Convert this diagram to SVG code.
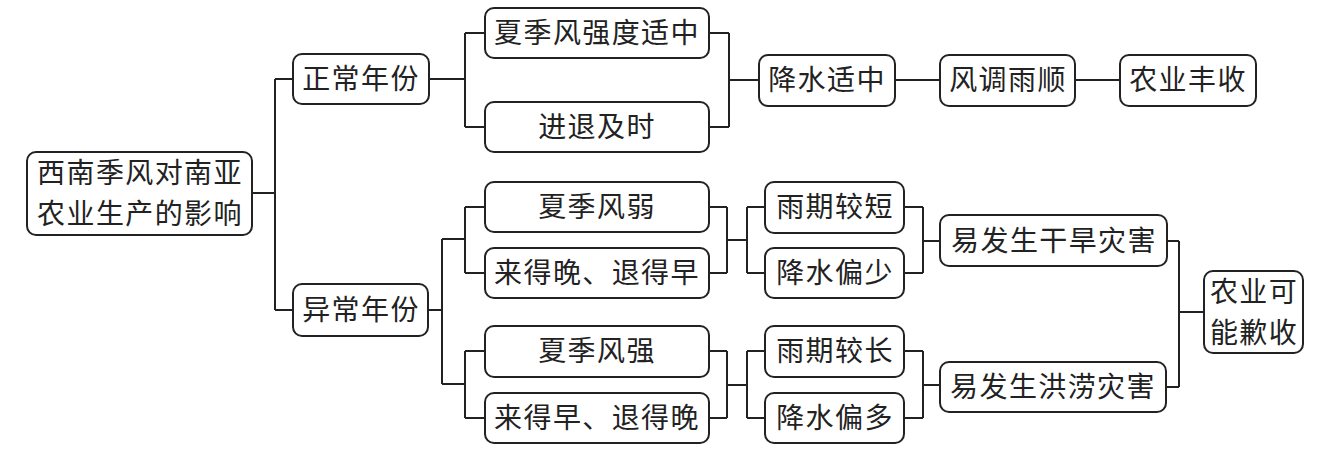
<svg xmlns="http://www.w3.org/2000/svg" width="1322" height="452" viewBox="0 0 1322 452">
<style>
.b{fill:#fff;stroke:#222;stroke-width:2}
.t{font-family:"Noto Sans CJK SC","Noto Sans",sans-serif;font-size:28px;fill:#222;text-anchor:middle;letter-spacing:1.4px}
.c{fill:none;stroke:#222;stroke-width:2}
</style>
<rect width="1322" height="452" fill="#fff"/>
<g id="connectors" class="c">
<path d="M252,193H275M275,79V310M275,79H293M275,310H293"/>
<path d="M429,79H465M465,33V127M465,33H485M465,127H485"/>
<path d="M709,33H729M709,127H729M729,33V127M729,80H759"/>
<path d="M895,80H940M1075,80H1120"/>
<path d="M428,310H442M442,239V384"/>
<path d="M442,239H465M465,207V273M465,207H485M465,273H485"/>
<path d="M442,384H465M465,351V418M465,351H485M465,418H485"/>
<path d="M709,207H727M709,273H727M727,207V273M727,240H747M747,207V273M747,207H765M747,273H765"/>
<path d="M709,351H727M709,418H727M727,351V418M727,385H747M747,351V418M747,351H765M747,418H765"/>
<path d="M904,207H923M904,273H923M923,207V273M923,241H940"/>
<path d="M904,351H923M904,418H923M923,351V418M923,385H940"/>
<path d="M1167,241H1179M1167,387H1179M1179,241V387M1179,312H1204"/>
</g>
<g id="root"><rect class="b" x="27" y="152" width="225" height="83" rx="9"/><text class="t" x="140" y="183">西南季风对南亚</text><text class="t" x="140" y="224">农业生产的影响</text></g>
<g id="normal"><rect class="b" x="293" y="54" width="136" height="50" rx="9"/><text class="t" x="361" y="89">正常年份</text></g>
<g id="abnormal"><rect class="b" x="293" y="284" width="135" height="52" rx="9"/><text class="t" x="361" y="320">异常年份</text></g>
<g id="n1"><rect class="b" x="485" y="8" width="224" height="50" rx="9"/><text class="t" x="597" y="43">夏季风强度适中</text></g>
<g id="n2"><rect class="b" x="485" y="102" width="224" height="50" rx="9"/><text class="t" x="597" y="137">进退及时</text></g>
<g id="n3"><rect class="b" x="759" y="55" width="136" height="51" rx="9"/><text class="t" x="827" y="90">降水适中</text></g>
<g id="n4"><rect class="b" x="940" y="55" width="135" height="51" rx="9"/><text class="t" x="1008" y="90">风调雨顺</text></g>
<g id="n5"><rect class="b" x="1120" y="55" width="136" height="51" rx="9"/><text class="t" x="1188" y="90">农业丰收</text></g>
<g id="a1"><rect class="b" x="485" y="182" width="224" height="50" rx="9"/><text class="t" x="597" y="217">夏季风弱</text></g>
<g id="a2"><rect class="b" x="485" y="248" width="224" height="50" rx="9"/><text class="t" x="597" y="283">来得晚、退得早</text></g>
<g id="a3"><rect class="b" x="485" y="326" width="224" height="51" rx="9"/><text class="t" x="597" y="361">夏季风强</text></g>
<g id="a4"><rect class="b" x="485" y="393" width="224" height="50" rx="9"/><text class="t" x="597" y="428">来得早、退得晚</text></g>
<g id="b1"><rect class="b" x="765" y="182" width="139" height="51" rx="9"/><text class="t" x="835" y="217">雨期较短</text></g>
<g id="b2"><rect class="b" x="765" y="248" width="139" height="50" rx="9"/><text class="t" x="835" y="283">降水偏少</text></g>
<g id="b3"><rect class="b" x="765" y="326" width="139" height="51" rx="9"/><text class="t" x="835" y="361">雨期较长</text></g>
<g id="b4"><rect class="b" x="765" y="393" width="139" height="50" rx="9"/><text class="t" x="835" y="428">降水偏多</text></g>
<g id="c1"><rect class="b" x="940" y="215" width="227" height="51" rx="9"/><text class="t" x="1054" y="251">易发生干旱灾害</text></g>
<g id="c2"><rect class="b" x="940" y="362" width="226" height="50" rx="9"/><text class="t" x="1053" y="397">易发生洪涝灾害</text></g>
<g id="d1"><rect class="b" x="1204" y="271" width="99" height="82" rx="9"/><text class="t" x="1254" y="302">农业可</text><text class="t" x="1254" y="343">能歉收</text></g>
</svg>
